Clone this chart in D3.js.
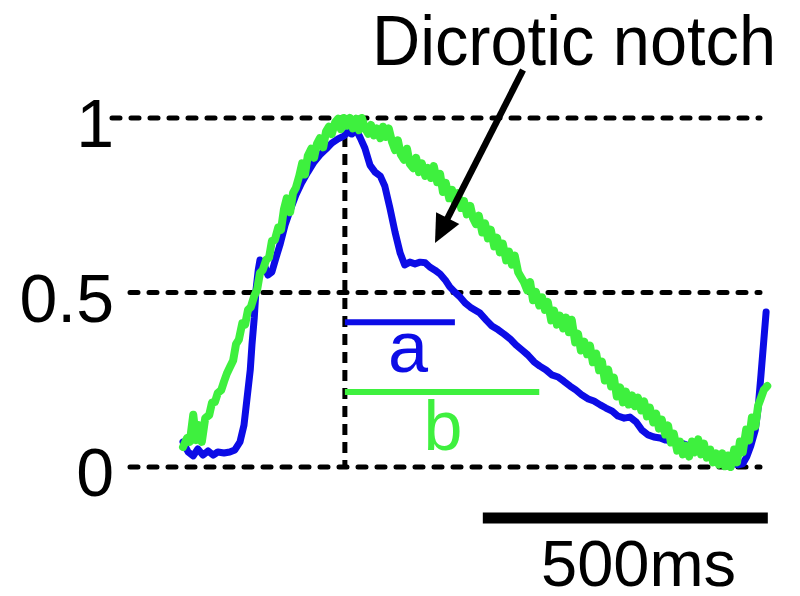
<!DOCTYPE html>
<html><head><meta charset="utf-8">
<script src="https://cdn.jsdelivr.net/npm/d3@7/dist/d3.min.js"></script>
<style>body{margin:0;background:#fff}svg{display:block}text{font-family:"Liberation Sans",Arial,sans-serif}</style>
</head><body>
<script>
// ---- data ----
const yTicks = [0, 0.5, 1];
const yTickLabels = ["0", "0.5", "1"];
const blueT = [0,9,18,26,35,44,53,61,72,82,91,100,107,112,118,121,125,128,132,135,142,149,156,163,170,179,188,198,209,219,230,240,251,261,272,282,289,296,304,311,319,328,337,346,354,363,372,381,389,398,407,416,425,433,442,451,460,468,477,486,495,504,512,521,532,542,553,563,574,584,595,605,616,626,637,647,658,668,679,689,700,711,721,732,742,753,763,774,784,795,805,816,826,837,847,858,868,879,889,900,911,921,932,942,953,963,974,982,989,996,1004,1009,1014,1019,1023];
const blueV = [0.072,0.043,0.032,0.052,0.034,0.046,0.034,0.043,0.040,0.043,0.049,0.072,0.120,0.192,0.278,0.350,0.427,0.507,0.564,0.593,0.582,0.550,0.559,0.599,0.636,0.693,0.736,0.779,0.817,0.845,0.874,0.894,0.911,0.928,0.940,0.948,0.960,0.954,0.966,0.943,0.914,0.865,0.845,0.834,0.805,0.742,0.673,0.613,0.579,0.587,0.582,0.587,0.585,0.573,0.564,0.553,0.536,0.516,0.501,0.487,0.470,0.458,0.450,0.441,0.421,0.404,0.393,0.381,0.367,0.350,0.335,0.321,0.301,0.289,0.278,0.264,0.258,0.246,0.232,0.221,0.206,0.195,0.189,0.178,0.169,0.160,0.146,0.140,0.143,0.129,0.106,0.092,0.086,0.083,0.077,0.075,0.069,0.066,0.060,0.054,0.049,0.043,0.032,0.023,0.017,0.011,0.006,0.009,0.029,0.060,0.106,0.169,0.264,0.364,0.444];
const greenT = [0,7,12,18,23,28,33,39,46,51,56,61,67,72,77,82,88,93,98,104,109,114,119,125,130,135,140,146,151,156,161,167,172,177,182,188,193,198,204,209,214,219,225,230,235,240,246,251,256,261,267,272,277,282,288,293,298,304,309,314,319,325,330,335,340,346,351,356,361,367,372,377,382,388,393,398,404,409,414,419,425,430,435,440,446,451,456,461,467,472,477,482,488,493,498,504,509,514,519,525,530,535,540,546,551,556,561,567,572,577,582,588,593,598,604,609,614,619,625,630,635,640,646,651,656,661,667,672,677,682,688,693,698,704,709,714,719,725,730,735,740,746,751,756,761,767,772,777,782,788,793,798,804,809,814,819,825,830,835,840,846,851,856,861,867,872,877,882,888,893,898,904,909,914,919,925,930,935,940,946,951,956,961,967,972,977,982,988,993,998,1004,1009,1014,1019,1025];
const greenV = [0.057,0.083,0.072,0.150,0.077,0.120,0.072,0.140,0.149,0.185,0.186,0.212,0.220,0.245,0.268,0.285,0.305,0.352,0.365,0.412,0.408,0.450,0.458,0.490,0.508,0.556,0.565,0.594,0.600,0.648,0.650,0.686,0.680,0.738,0.770,0.730,0.785,0.800,0.834,0.870,0.838,0.892,0.912,0.886,0.926,0.942,0.916,0.962,0.975,0.954,0.988,0.998,0.968,1.000,0.978,1.000,0.970,0.998,0.965,1.000,0.972,0.955,0.980,0.950,0.970,0.942,0.975,0.946,0.970,0.930,0.908,0.936,0.896,0.880,0.912,0.868,0.856,0.886,0.845,0.870,0.834,0.857,0.828,0.862,0.816,0.840,0.788,0.814,0.770,0.794,0.758,0.785,0.742,0.762,0.724,0.748,0.712,0.696,0.720,0.672,0.698,0.655,0.680,0.632,0.657,0.615,0.640,0.592,0.617,0.580,0.606,0.558,0.544,0.530,0.506,0.530,0.478,0.502,0.463,0.486,0.450,0.473,0.420,0.448,0.408,0.434,0.397,0.428,0.386,0.422,0.357,0.382,0.334,0.359,0.323,0.348,0.300,0.325,0.277,0.302,0.248,0.279,0.231,0.256,0.202,0.228,0.185,0.216,0.179,0.205,0.174,0.199,0.162,0.188,0.145,0.170,0.128,0.153,0.110,0.136,0.093,0.119,0.070,0.096,0.047,0.073,0.036,0.061,0.030,0.073,0.042,0.079,0.036,0.067,0.027,0.050,0.013,0.039,0.007,0.039,0.002,0.033,0.000,0.050,0.013,0.073,0.042,0.107,0.076,0.142,0.116,0.176,0.198,0.221,0.232];
const peakT = 284;              // vertical dotted line (ms)
const intervalA = [284, 477];   // "a" interval (ms)
const intervalB = [284, 625];   // "b" interval (ms)
const intervalAV = 0.415, intervalBV = 0.215;
const scaleBarStart = 526, scaleBarMs = 500;
const annotation = "Dicrotic notch";
const scaleLabel = "500ms";

// ---- drawing ----
const W = 800, H = 596;
const blue = "#0c0ce6", green = "#3ef03e";
const svg = d3.select("body").append("svg").attr("width", W).attr("height", H);
const x = d3.scaleLinear().domain([0, 500]).range([183, 468]);
const y = d3.scaleLinear().domain([0, 1]).range([467, 118]);

// gridlines
const grid = svg.append("g");
yTicks.forEach((t, i) => {
  grid.append("line")
    .attr("x1", t === 1 ? 112 : 130).attr("x2", 760)
    .attr("y1", y(t)).attr("y2", y(t))
    .attr("stroke", "#000").attr("stroke-width", 5)
    .attr("stroke-linecap", "round").attr("stroke-dasharray", "8,11");
  svg.append("text").attr("x", 114).attr("y", y(t) + 29)
    .attr("text-anchor", "end").attr("font-size", 68).attr("fill", "#000")
    .text(yTickLabels[i]);
});
// vertical dotted line at peak
svg.append("line").attr("x1", x(peakT)).attr("x2", x(peakT))
  .attr("y1", y(1)).attr("y2", y(0))
  .attr("stroke", "#000").attr("stroke-width", 5)
  .attr("stroke-dasharray", "11,7");

// curves
const line = d3.line().x(d => x(d[0])).y(d => y(d[1])).curve(d3.curveLinear);
svg.append("path").datum(blueT.map((t, i) => [t, blueV[i]]))
  .attr("d", line).attr("fill", "none").attr("stroke", blue)
  .attr("stroke-width", 7).attr("stroke-linejoin", "round").attr("stroke-linecap", "round");
svg.append("path").datum(greenT.map((t, i) => [t, greenV[i]]))
  .attr("d", line).attr("fill", "none").attr("stroke", green)
  .attr("stroke-width", 8).attr("stroke-linejoin", "round").attr("stroke-linecap", "round");

// intervals a, b
svg.append("line").attr("x1", x(intervalA[0])).attr("x2", x(intervalA[1]))
  .attr("y1", y(intervalAV)).attr("y2", y(intervalAV))
  .attr("stroke", blue).attr("stroke-width", 6);
svg.append("text").attr("x", 408).attr("y", 372).attr("text-anchor", "middle")
  .attr("font-size", 72).attr("fill", blue).text("a");
svg.append("line").attr("x1", x(intervalB[0])).attr("x2", x(intervalB[1]))
  .attr("y1", y(intervalBV)).attr("y2", y(intervalBV))
  .attr("stroke", green).attr("stroke-width", 6);
svg.append("text").attr("x", 443).attr("y", 450).attr("text-anchor", "middle")
  .attr("font-size", 70).attr("fill", green).text("b");

// annotation + arrow
svg.append("text").attr("x", 372).attr("y", 65).attr("font-size", 70)
  .attr("textLength", 404).attr("lengthAdjust", "spacingAndGlyphs")
  .attr("fill", "#000").text(annotation);
const ax1 = 523, ay1 = 70, ax2 = 435, ay2 = 243;
const ang = Math.atan2(ay2 - ay1, ax2 - ax1);
const hl = 28, hw = 13;
const bx = ax2 - hl * Math.cos(ang), by = ay2 - hl * Math.sin(ang);
svg.append("line").attr("x1", ax1).attr("y1", ay1).attr("x2", bx + 2 * Math.cos(ang)).attr("y2", by + 2 * Math.sin(ang))
  .attr("stroke", "#000").attr("stroke-width", 6.5);
svg.append("path").attr("d", `M${ax2},${ay2}L${bx + hw * Math.sin(ang)},${by - hw * Math.cos(ang)}L${bx - hw * Math.sin(ang)},${by + hw * Math.cos(ang)}Z`)
  .attr("fill", "#000");

// scale bar
svg.append("line").attr("x1", x(scaleBarStart)).attr("x2", x(scaleBarStart + scaleBarMs))
  .attr("y1", 518).attr("y2", 518).attr("stroke", "#000").attr("stroke-width", 11);
svg.append("text").attr("x", 541).attr("y", 586).attr("font-size", 65)
  .attr("fill", "#000").text(scaleLabel);
</script>
</body></html>
